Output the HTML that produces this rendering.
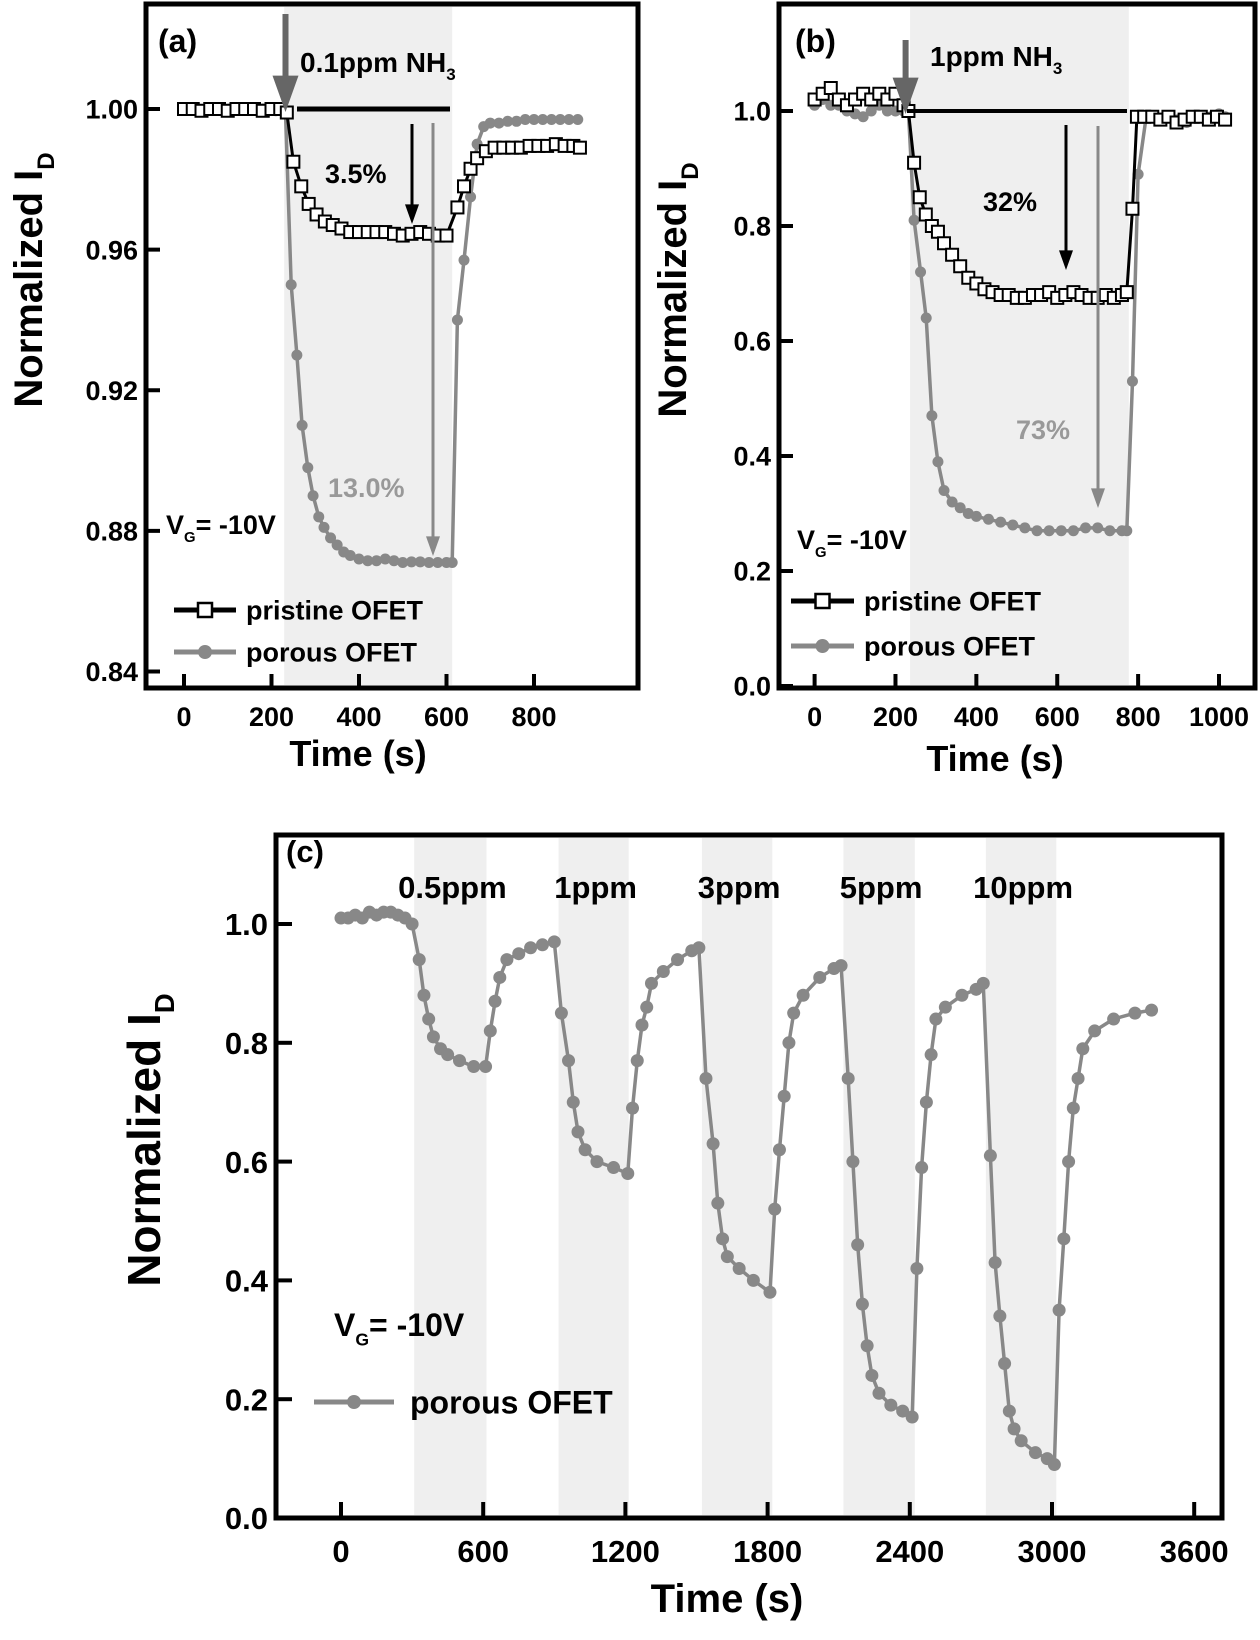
<!DOCTYPE html>
<html><head><meta charset="utf-8">
<style>
html,body{margin:0;padding:0;background:#fff;}
svg{display:block;font-family:"Liberation Sans",Arial,sans-serif;font-weight:bold;}
</style></head>
<body>
<svg id="fig" width="1260" height="1640" viewBox="0 0 1260 1640" xmlns="http://www.w3.org/2000/svg">
</svg>
<script>
// ---------- Panel (a) data ----------
const aPrisT = [0,20,40,60,80,100,120,140,160,180,200,220,235,250,268,285,303,322,340,360,380,400,420,440,460,480,500,520,540,560,580,600,625,640,655,670,690,710,730,750,770,790,810,830,850,870,890,905];
const aPrisV = [1.0,1.0,0.9995,1.0,1.0,0.9995,1.0,1.0,1.0,0.9995,1.0,1.0,0.999,0.985,0.978,0.973,0.970,0.968,0.967,0.966,0.965,0.965,0.965,0.965,0.965,0.9645,0.964,0.9645,0.965,0.9645,0.964,0.964,0.972,0.978,0.983,0.986,0.988,0.989,0.989,0.989,0.989,0.9895,0.9895,0.9895,0.990,0.9895,0.9895,0.989];
const aPorT = [0,15,30,45,60,75,90,105,120,135,150,165,180,195,210,225,232,245,258,270,283,295,308,320,335,350,365,380,400,420,440,460,480,500,520,540,560,580,600,613,625,640,655,670,685,700,720,740,760,780,800,820,840,860,880,900];
const aPorV = [1.0,1.0,1.0,0.9995,1.0,1.0,0.9998,1.0,1.0,1.0,1.0,1.0,1.0,1.0,0.9995,1.0,0.999,0.95,0.93,0.91,0.898,0.89,0.884,0.881,0.878,0.876,0.874,0.873,0.872,0.8715,0.8715,0.872,0.8715,0.871,0.8712,0.8712,0.871,0.871,0.871,0.871,0.94,0.957,0.975,0.99,0.995,0.996,0.996,0.9965,0.9965,0.997,0.997,0.997,0.997,0.997,0.997,0.997];
const aXTicks = [0,200,400,600,800];
const aYTicks = [0.84,0.88,0.92,0.96,1.00];
const aYLabels = ["0.84","0.88","0.92","0.96","1.00"];
const aShade = [229,613];

// ---------- Panel (b) data ----------
const bPrisT = [0,20,40,60,80,100,120,140,160,180,200,220,232,246,260,275,290,305,320,340,360,380,400,420,440,460,480,500,520,540,560,580,600,620,640,660,680,700,720,740,760,772,786,797,815,835,855,875,895,915,935,955,975,995,1015];
const bPrisV = [1.02,1.03,1.04,1.02,1.01,1.02,1.03,1.02,1.03,1.02,1.03,1.01,1.0,0.91,0.85,0.82,0.80,0.79,0.77,0.75,0.73,0.71,0.70,0.69,0.685,0.68,0.68,0.675,0.675,0.68,0.68,0.685,0.675,0.68,0.685,0.68,0.675,0.675,0.68,0.675,0.68,0.685,0.83,0.99,0.99,0.99,0.985,0.99,0.98,0.985,0.99,0.99,0.985,0.99,0.985];
const bPorT = [0,20,40,60,80,100,120,140,160,180,200,220,232,246,262,276,290,305,320,340,360,380,400,430,460,490,520,550,580,610,640,670,700,730,760,772,786,800,820,840,860,880,900,920,940,960,980,1000,1015];
const bPorV = [1.01,1.02,1.01,1.01,1.0,0.995,0.99,1.0,1.01,1.0,1.0,1.0,1.0,0.81,0.72,0.64,0.47,0.39,0.34,0.32,0.31,0.30,0.295,0.29,0.285,0.28,0.275,0.27,0.27,0.27,0.27,0.275,0.275,0.27,0.27,0.27,0.53,0.89,0.99,0.99,0.985,0.99,0.985,0.98,0.99,0.99,0.99,0.995,0.99];
const bXTicks = [0,200,400,600,800,1000];
const bYTicks = [0.0,0.2,0.4,0.6,0.8,1.0];
const bYLabels = ["0.0","0.2","0.4","0.6","0.8","1.0"];
const bShade = [236,777];

// ---------- Panel (c) data ----------
const cT = [0,30,60,90,120,150,180,210,240,270,300,330,350,370,390,420,450,500,560,610,630,650,670,700,750,800,850,900,930,960,980,1000,1030,1080,1150,1210,1230,1250,1270,1290,1310,1360,1420,1480,1510,1540,1570,1590,1610,1630,1680,1740,1810,1830,1850,1870,1890,1910,1950,2020,2080,2110,2140,2160,2180,2200,2220,2240,2270,2320,2370,2410,2430,2450,2470,2490,2510,2550,2620,2680,2710,2740,2760,2780,2800,2820,2840,2870,2930,2980,3010,3030,3050,3070,3090,3110,3130,3180,3260,3350,3420];
const cV = [1.01,1.01,1.015,1.01,1.02,1.015,1.02,1.02,1.015,1.01,1.0,0.94,0.88,0.84,0.81,0.79,0.78,0.77,0.76,0.76,0.82,0.87,0.91,0.94,0.95,0.96,0.965,0.97,0.85,0.77,0.70,0.65,0.62,0.60,0.59,0.58,0.69,0.77,0.83,0.86,0.90,0.92,0.94,0.955,0.96,0.74,0.63,0.53,0.47,0.44,0.42,0.40,0.38,0.52,0.62,0.71,0.80,0.85,0.88,0.91,0.925,0.93,0.74,0.60,0.46,0.36,0.29,0.24,0.21,0.19,0.18,0.17,0.42,0.59,0.70,0.78,0.84,0.86,0.88,0.89,0.90,0.61,0.43,0.34,0.26,0.18,0.15,0.13,0.11,0.10,0.09,0.35,0.47,0.60,0.69,0.74,0.79,0.82,0.84,0.85,0.855];
const cXTicks = [0,600,1200,1800,2400,3000,3600];
const cYTicks = [0.0,0.2,0.4,0.6,0.8,1.0];
const cYLabels = ["0.0","0.2","0.4","0.6","0.8","1.0"];
const cShades = [[309,614],[918,1214],[1523,1820],[2120,2421],[2721,3018]];
const cConc = ["0.5ppm","1ppm","3ppm","5ppm","10ppm"];

// ---------- helpers ----------
const NS = "http://www.w3.org/2000/svg";
const svg = document.getElementById("fig");
function mk(tag, attrs, parent, text){
  const e = document.createElementNS(NS, tag);
  for (const k in attrs) e.setAttribute(k, attrs[k]);
  if (text !== undefined) e.textContent = text;
  (parent || svg).appendChild(e);
  return e;
}
function group(name){
  const g = document.createElementNS(NS,"g");
  
  
  svg.appendChild(g);
  return g;
}
function lin(d0,d1,p0,p1){ return v => p0 + (v-d0)*(p1-p0)/(d1-d0); }

function drawPanel(cfg){
  const g = group(cfg.name);
  const X = cfg.x, Y = cfg.y;
  cfg.shades.forEach(s=>{
    const r = mk("rect",{x:X(s[0]),y:cfg.top+3,width:X(s[1])-X(s[0]),height:cfg.bottom-cfg.top-6,fill:"#efefef"},g);
    
    
  });
  cfg.xTicks.forEach(t=>{
    mk("line",{x1:X(t),x2:X(t),y1:cfg.bottom,y2:cfg.bottom-cfg.tickLen,stroke:"#000","stroke-width":4},g);
    const tx = mk("text",{x:X(t),y:cfg.bottom+cfg.xLabOff,"text-anchor":"middle","font-size":cfg.tickFont},g,String(t));
    
    
  });
  cfg.yTicks.forEach((v,i)=>{
    mk("line",{x1:cfg.left,x2:cfg.left+cfg.tickLen,y1:Y(v),y2:Y(v),stroke:"#000","stroke-width":4},g);
    const tx = mk("text",{x:cfg.left-8,y:Y(v)+cfg.tickFont*0.36,"text-anchor":"end","font-size":cfg.tickFont},g,cfg.yLabels[i]);
    
    
  });
  const fr = mk("rect",{x:cfg.left,y:cfg.top,width:cfg.right-cfg.left,height:cfg.bottom-cfg.top,fill:"none",stroke:"#000","stroke-width":5},g);
  
  
  return g;
}
function series(g, T, V, X, Y, color, marker, name, r){
  const sg = document.createElementNS(NS,"g");
  
  
  g.appendChild(sg);
  const pts = T.map((t,i)=>X(t).toFixed(1)+","+Y(V[i]).toFixed(1)).join(" ");
  mk("polyline",{points:pts,fill:"none",stroke:color,"stroke-width":marker==="sq"?3:3.5},sg);
  T.forEach((t,i)=>{
    let m;
    if (marker==="sq") m = mk("rect",{x:X(t)-6,y:Y(V[i])-6,width:12,height:12,fill:"#fff",stroke:"#000","stroke-width":2},sg);
    else m = mk("circle",{cx:X(t),cy:Y(V[i]),r:r||5.5,fill:color},sg);
    
    
  });
}
function text(g,x,y,s,size,fill,name,anchor){
  const t = mk("text",{x:x,y:y,"font-size":size,fill:fill||"#000","text-anchor":anchor||"start"},g,s);
  
  
  return t;
}
function arrow(g,x,y1,y2,color,w,head,name){
  const a = mk("g",{},g);
  
  
  mk("line",{x1:x,x2:x,y1:y1,y2:y2-head*1.2,stroke:color,"stroke-width":w},a);
  mk("path",{d:`M${x-head/2},${y2-head*1.4} L${x+head/2},${y2-head*1.4} L${x},${y2} z`,fill:color},a);
}
function legend(g,x1,x2,y,tx,label,kind,size){
  const lg = mk("g",{},g);
  
  
  const col = kind==="sq" ? "#000" : "#888";
  mk("line",{x1:x1,x2:x2,y1:y,y2:y,stroke:col,"stroke-width":5},lg);
  const mx=(x1+x2)/2;
  if (kind==="sq") mk("rect",{x:mx-7,y:y-7,width:14,height:14,fill:"#fff",stroke:"#000","stroke-width":2.5},lg);
  else mk("circle",{cx:mx,cy:y,r:7,fill:"#888"},lg);
  mk("text",{x:tx,y:y+size*0.36,"font-size":size},lg,label);
}
function vg(g,x,y,size){
  const t = mk("text",{x:x,y:y,"font-size":size},g);
  
  
  t.appendChild(document.createTextNode("V"));
  const s = document.createElementNS(NS,"tspan"); s.setAttribute("font-size",size*0.55); s.setAttribute("dy",size*0.3); s.textContent="G"; t.appendChild(s);
  const s2 = document.createElementNS(NS,"tspan"); s2.setAttribute("dy",-size*0.3); s2.textContent="= -10V"; t.appendChild(s2);
}
function ytitle(g,x,y,size){
  const t = mk("text",{x:0,y:0,"font-size":size,"text-anchor":"middle",transform:`translate(${x},${y}) rotate(-90)`},g);
  
  
  t.appendChild(document.createTextNode("Normalized I"));
  const s = document.createElementNS(NS,"tspan"); s.setAttribute("font-size",size*0.6); s.setAttribute("dy",size*0.3); s.textContent="D"; t.appendChild(s);
}

// ---------- Panel (a) ----------
const xa = lin(0,800,184,534), ya = lin(0.84,1.00,671.5,109);
const ga = drawPanel({name:"panel-a",x:xa,y:ya,left:146,right:638,top:4,bottom:688,shades:[aShade],xTicks:aXTicks,yTicks:aYTicks,yLabels:aYLabels,tickLen:14,tickFont:27,xLabOff:38});
series(ga,aPorT,aPorV,xa,ya,"#888","c","porous-series-a");
series(ga,aPrisT,aPrisV,xa,ya,"#000","sq","pristine-series-a");
text(ga,158,52,"(a)",32,"#000","panel-label-a");
arrow(ga,xa(232),14,112,"#666",6,26,"exposure-start-arrow-a");
const nha = text(ga,300,72,"0.1ppm NH",28,"#000","gas-label-a");
{const s=document.createElementNS(NS,"tspan");s.setAttribute("font-size",17);s.setAttribute("dy",8);s.textContent="3";nha.appendChild(s);}
const la = mk("line",{x1:297,x2:450,y1:109,y2:109,stroke:"#000","stroke-width":5},ga);
 
arrow(ga,412,124,224,"#000",3,14,"response-arrow-pristine-a");
arrow(ga,433,123,556,"#888",3,14,"response-arrow-porous-a");
text(ga,325,183,"3.5%",27,"#000","response-label-pristine-a");
text(ga,328,497,"13.0%",27,"#999","response-label-porous-a");
vg(ga,166,534,27);
legend(ga,174,236,610,246,"pristine OFET","sq",27);
legend(ga,174,236,652,246,"porous OFET","c",27);
ytitle(ga,42,280,40);
text(ga,358,766,"Time (s)",36,"#000","x-axis-title-a","middle");

// ---------- Panel (b) ----------
const xb = lin(0,1000,814.6,1219), yb = lin(0,1.0,686,111);
const gb = drawPanel({name:"panel-b",x:xb,y:yb,left:779,right:1255,top:4,bottom:688,shades:[bShade],xTicks:bXTicks,yTicks:bYTicks,yLabels:bYLabels,tickLen:14,tickFont:27,xLabOff:38});
series(gb,bPorT,bPorV,xb,yb,"#888","c","porous-series-b");
series(gb,bPrisT,bPrisV,xb,yb,"#000","sq","pristine-series-b");
text(gb,795,52,"(b)",32,"#000","panel-label-b");
arrow(gb,xb(225),40,114,"#666",6,26,"exposure-start-arrow-b");
const nhb = text(gb,930,66,"1ppm NH",28,"#000","gas-label-b");
{const s=document.createElementNS(NS,"tspan");s.setAttribute("font-size",17);s.setAttribute("dy",8);s.textContent="3";nhb.appendChild(s);}
const lb = mk("line",{x1:907,x2:1127,y1:111,y2:111,stroke:"#000","stroke-width":4},gb);
 
arrow(gb,1066,125,270,"#000",3,14,"response-arrow-pristine-b");
arrow(gb,1098,126,508,"#888",3,14,"response-arrow-porous-b");
text(gb,983,211,"32%",27,"#000","response-label-pristine-b");
text(gb,1016,439,"73%",27,"#999","response-label-porous-b");
vg(gb,797,549,27);
legend(gb,791,854,601,864,"pristine OFET","sq",27);
legend(gb,791,854,646,864,"porous OFET","c",27);
ytitle(gb,686,290,40);
text(gb,995,771,"Time (s)",36,"#000","x-axis-title-b","middle");

// ---------- Panel (c) ----------
const xc = lin(0,3000,341,1052), yc = lin(0,1.0,1518,924);
const gc = drawPanel({name:"panel-c",x:xc,y:yc,left:276,right:1222,top:835,bottom:1518,shades:cShades,xTicks:cXTicks,yTicks:cYTicks,yLabels:cYLabels,tickLen:16,tickFont:31,xLabOff:44});
series(gc,cT,cV,xc,yc,"#888","c","porous-series-c",6.5);
text(gc,286,862,"(c)",31,"#000","panel-label-c");
cShades.forEach((s,i)=>{
  text(gc,(xc(s[0])+xc(s[1]))/2+2,898,cConc[i],31,"#000","concentration-label","middle");
});
vg(gc,334,1336,32);
legend(gc,314,394,1402,410,"porous OFET","c",32);
ytitle(gc,160,1140,46);
text(gc,727,1612,"Time (s)",40,"#000","x-axis-title-c","middle");
</script>
</body></html>
